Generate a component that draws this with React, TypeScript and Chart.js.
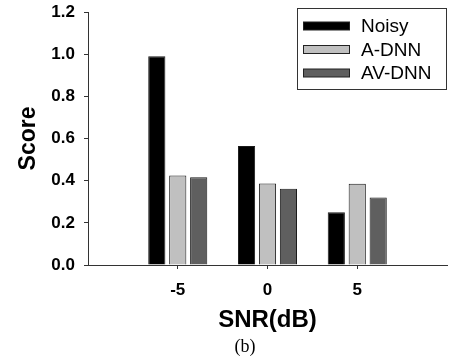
import React, { useEffect, useRef } from 'react';
import { Chart, registerables } from 'chart.js';

Chart.register(...registerables);

const categories = ['', '-5', '0', '5', ''];
const seriesNames = ['Noisy', 'A-DNN', 'AV-DNN'];
const noisy = [null, 0.99, 0.565, 0.25, null];
const aDnn = [null, 0.425, 0.386, 0.385, null];
const avDnn = [null, 0.416, 0.362, 0.32, null];
const fills = ['#000000', '#c0c0c0', '#5f5f5f'];
const yMin = 0;
const yMax = 1.2;
const yStep = 0.2;
const xTitle = 'SNR(dB)';
const yTitle = 'Score';
const caption = '(b)';

const FONT = '"Liberation Sans", Arial, Helvetica, sans-serif';

const legendPlugin = {
  id: 'boxLegend',
  afterDraw(chart: any) {
    const ctx = chart.ctx;
    const ds = chart.data.datasets;
    const bx = 297, by = 8, bw = 149, bh = 81;
    ctx.save();
    ctx.fillStyle = '#ffffff';
    ctx.fillRect(bx, by, bw, bh);
    ctx.strokeStyle = '#333333';
    ctx.lineWidth = 1;
    ctx.strokeRect(bx + 0.5, by + 0.5, bw, bh);
    ctx.font = `19px ${FONT}`;
    ctx.textBaseline = 'middle';
    ctx.textAlign = 'left';
    ds.forEach((d: any, i: number) => {
      const cy = 26 + i * 23.5;
      ctx.fillStyle = d.backgroundColor;
      ctx.fillRect(303.5, cy - 4, 46, 8);
      ctx.strokeStyle = '#222222';
      ctx.strokeRect(303.5, cy - 4, 46, 8);
      ctx.fillStyle = '#000000';
      ctx.fillText(d.label, 361, cy + 1);
    });
    ctx.restore();
  },
};

const captionPlugin = {
  id: 'caption',
  afterDraw(chart: any) {
    const ctx = chart.ctx;
    ctx.save();
    ctx.font = '18px "Liberation Serif", "Times New Roman", serif';
    ctx.fillStyle = '#000000';
    ctx.textAlign = 'center';
    ctx.textBaseline = 'middle';
    ctx.fillText(caption, 245, 347);
    ctx.restore();
  },
};

export default function App() {
  const ref = useRef<HTMLCanvasElement | null>(null);

  useEffect(() => {
    if (!ref.current) return;
    const series = [noisy, aDnn, avDnn];
    const chart = new Chart(ref.current, {
      type: 'bar',
      data: {
        labels: categories,
        datasets: series.map((values, i) => ({
          label: seriesNames[i],
          data: values,
          backgroundColor: fills[i],
          borderColor: '#1a1a1a',
          borderWidth: 1,
          categoryPercentage: 0.7,
          barPercentage: 0.82,
        })),
      },
      options: {
        responsive: false,
        animation: false,
        devicePixelRatio: 1,
        layout: { padding: { top: 12, right: 2, left: 0, bottom: 0 } },
        plugins: {
          legend: { display: false },
          tooltip: { enabled: false },
        },
        scales: {
          x: {
            offset: false,
            afterFit: (s: any) => {
              s.height = 98;
              s.paddingLeft = 0;
              s.paddingRight = 0;
            },
            grid: {
              offset: false,
              drawOnChartArea: false,
              drawTicks: true,
              tickLength: 4,
              color: (c: any) => (c.index === 0 || c.index === categories.length - 1 ? 'rgba(0,0,0,0)' : '#333333'),
            },
            border: { display: true, color: '#333333', width: 1 },
            ticks: {
              autoSkip: false,
              maxRotation: 0,
              padding: 11,
              color: '#000000',
              font: { family: FONT, size: 17, weight: 'bold' },
            },
            title: {
              display: true,
              text: xTitle,
              color: '#000000',
              font: { family: FONT, size: 24, weight: 'bold' },
              padding: { top: 0, bottom: 28 },
            },
          },
          y: {
            min: yMin,
            max: yMax,
            afterFit: (s: any) => {
              s.width = 88;
              s.paddingTop = 0;
              s.paddingBottom = 0;
            },
            grid: {
              drawOnChartArea: false,
              drawTicks: true,
              tickLength: 4,
              color: '#333333',
            },
            border: { display: true, color: '#333333', width: 1 },
            ticks: {
              stepSize: yStep,
              padding: 9,
              color: '#000000',
              font: { family: FONT, size: 17, weight: 'bold' },
              callback: (v: any) => Number(v).toFixed(1),
            },
            title: {
              display: true,
              text: yTitle,
              color: '#000000',
              font: { family: FONT, size: 23, weight: 'bold' },
              padding: { top: 15, bottom: 0 },
            },
          },
        },
      },
      plugins: [legendPlugin, captionPlugin],
    });
    return () => chart.destroy();
  }, []);

  return (
    <div style={{ position: 'absolute', left: 0, top: 0, width: 449, height: 363, background: '#fff' }}>
      <canvas ref={ref} width={449} height={363} style={{ display: 'block', width: 449, height: 363 }} />
    </div>
  );
}
